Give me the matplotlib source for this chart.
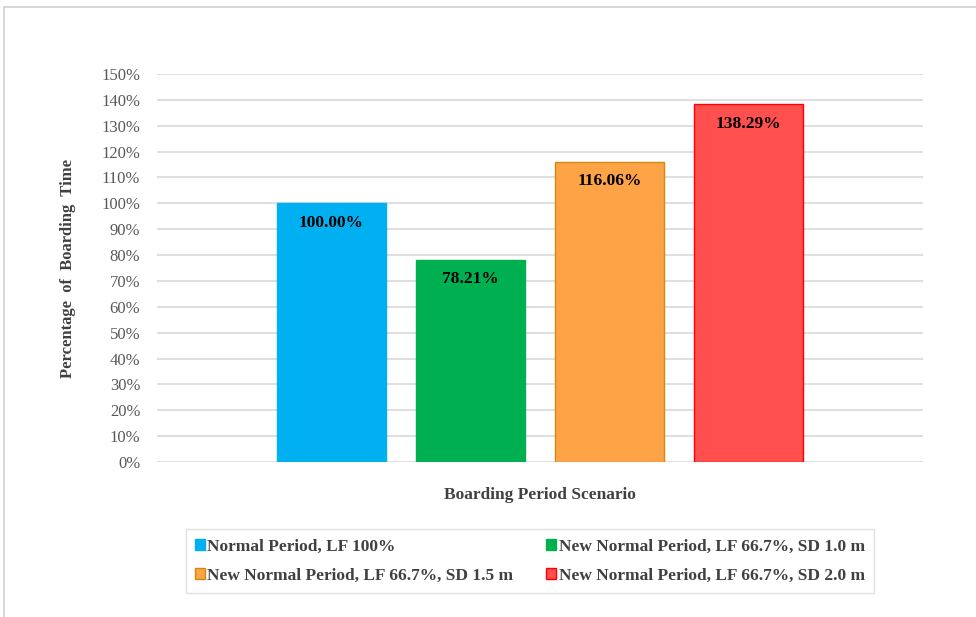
import matplotlib.pyplot as plt
from matplotlib.patches import Rectangle
from matplotlib.ticker import FuncFormatter

plt.rcParams['font.family'] = ['Liberation Serif', 'DejaVu Serif']

# Boarding time relative to normal period
scenarios = [
    "Normal Period, LF 100%",
    "New Normal Period, LF 66.7%, SD 1.0 m",
    "New Normal Period, LF 66.7%, SD 1.5 m",
    "New Normal Period, LF 66.7%, SD 2.0 m",
]
values = [100.00, 78.21, 116.06, 138.29]
colors = ["#00B0F0", "#00B050", "#FFA347", "#FF4F4F"]
edges = ["#00B0F0", "#00B050", "#D08A12", "#FF0000"]
yticks = list(range(0, 151, 10))

fig = plt.figure(figsize=(9.76, 6.17), dpi=100)
ax = fig.add_axes([157 / 976, 1 - 462 / 617, 766 / 976, 388 / 617])

# chart area border
fig.patches.append(Rectangle((4 / 976, -0.1), 1.2, 1 - 7 / 617 + 0.1,
                             transform=fig.transFigure, fill=False,
                             edgecolor="#D0D0D0", linewidth=1.2))

xs = list(range(len(values)))
bars = ax.bar(xs, values, width=0.785, color=colors, edgecolor=edges,
              linewidth=1.0, zorder=3)

for x, v in zip(xs, values):
    ax.text(x, v - 7.5, f"{v:.2f}%", ha="center", va="center",
            fontsize=12.5, fontweight="bold", color="black", zorder=4)

ax.set_xlim(-1.255, 4.255)
ax.set_ylim(0, 150)
ax.set_yticks(yticks)
ax.yaxis.set_major_formatter(FuncFormatter(lambda v, p: f"{v:.0f}%"))
ax.grid(axis="y", color="#D9D9D9", linewidth=1.2, zorder=0)
ax.set_xticks([])
for s in ax.spines.values():
    s.set_visible(False)
ax.tick_params(axis="y", length=0, pad=12, labelsize=12, labelcolor="#595959")

ax.set_ylabel("Percentage  of  Boarding  Time", fontsize=12, fontweight="bold",
              color="#404040", labelpad=18)
ax.set_xlabel("Boarding Period Scenario", fontsize=12.5, fontweight="bold",
              color="#404040", labelpad=18)

# legend filled row by row
order = [0, 2, 1, 3]
leg = fig.legend(handles=[bars[i] for i in order],
                 labels=[scenarios[i] for i in order], ncol=2,
                 loc="center", bbox_to_anchor=(530 / 976, 1 - 561 / 617),
                 prop={"weight": "bold", "size": 12.5},
                 frameon=True, fancybox=False, edgecolor="#D9D9D9",
                 handlelength=0.55, handleheight=0.55, handletextpad=0.15,
                 columnspacing=1.9, labelspacing=0.75, borderpad=0.55)
for t in leg.get_texts():
    t.set_color("#404040")

fig.savefig("out.png", dpi=100)
